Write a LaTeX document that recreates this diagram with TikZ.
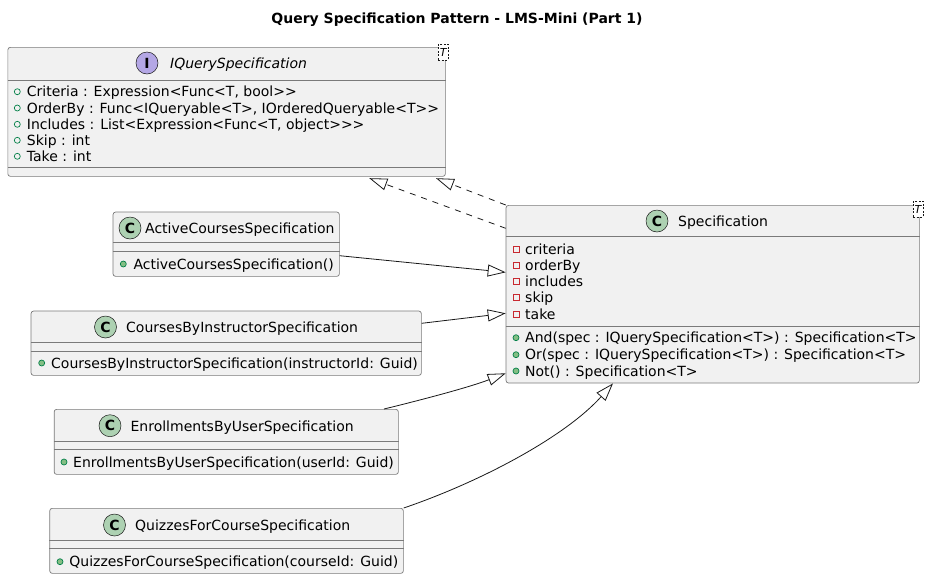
\documentclass[tikz,border=0pt]{standalone}
\usepackage{fontspec}
\setmainfont{DejaVu Sans}
\usetikzlibrary{arrows.meta,calc}
\definecolor{boxfill}{HTML}{F1F1F1}
\definecolor{ink}{HTML}{181818}
\definecolor{boxline}{HTML}{7A7A7A}
\definecolor{cgreen}{HTML}{ADD1B2}
\definecolor{ipurple}{HTML}{B4A7E5}
\definecolor{publine}{HTML}{038048}
\definecolor{pubfill}{HTML}{84BE84}
\definecolor{privred}{HTML}{C82930}
\begin{document}
\begin{tikzpicture}[x=1pt,y=-1pt,
  box/.style={draw=boxline, line width=0.7pt, fill=boxfill, rounded corners=2.5pt, inner sep=0pt, anchor=north west},
  sepline/.style={draw=boxline, line width=0.7pt},
  badge/.style={circle, draw=ink, line width=0.5pt, minimum size=22pt, inner sep=0pt, font=\fontsize{14}{14}\selectfont\bfseries},
  row/.style={anchor=base west, inner sep=0pt, font=\fontsize{14}{16}\selectfont},
  pubf/.style={circle, draw=publine, line width=0.7pt, minimum size=6pt, inner sep=0pt},
  pubm/.style={circle, draw=publine, fill=pubfill, line width=0.7pt, minimum size=6pt, inner sep=0pt},
  privf/.style={rectangle, draw=privred, line width=0.7pt, minimum size=6pt, inner sep=0pt},
  tmpl/.style={draw=ink, dash pattern=on 2pt off 1.5pt, fill=white, line width=0.5pt, inner sep=0pt, minimum width=10pt, minimum height=15.5pt, font=\fontsize{11}{11}\selectfont\itshape},
  ext/.style={draw=ink, line width=0.8pt, -{Triangle[length=18pt,width=12pt,fill=white]}},
  real/.style={ext, dash pattern=on 6pt off 6pt}
]
\useasboundingbox (0,0) rectangle (929,579);

% title
\node[anchor=base, inner sep=0pt, font=\fontsize{14}{16}\selectfont\bfseries] (title) at (457,23.3) {Query Specification Pattern - LMS-Mini (Part 1)};

% IQuerySpecification
\node[box, minimum width=437.5pt, minimum height=129pt] (iq) at (7.5,47) {};
\draw[sepline] (iq.west |- 0,80) -- (iq.east |- 0,80);
\draw[sepline] (iq.west |- 0,167.7) -- (iq.east |- 0,167.7);
\node[badge, fill=ipurple] (iqb) at (147,63) {I};
\node[row, font=\fontsize{14}{16}\selectfont\itshape] (iqn) at (170,68.5) {IQuerySpecification};
\node[tmpl] (iqt) at (443.3,52) {T};
\node[pubf] (iqm1) at (17.3,91.7) {};
\node[row] (iqa1) at (26.7,96.7) {Criteria : Expression<Func<T, bool>{}>};
\node[pubf] (iqm2) at (17.3,108) {};
\node[row] (iqa2) at (26.7,113) {OrderBy : Func<IQueryable<T>, IOrderedQueryable<T>{}>};
\node[pubf] (iqm3) at (17.3,124.3) {};
\node[row] (iqa3) at (26.7,129.3) {Includes : List<Expression<Func<T, object>{}>{}>};
\node[pubf] (iqm4) at (17.3,140.3) {};
\node[row] (iqa4) at (26.7,145.3) {Skip : int};
\node[pubf] (iqm5) at (17.3,156.3) {};
\node[row] (iqa5) at (26.7,161.3) {Take : int};

% Specification
\node[box, minimum width=413.3pt, minimum height=177.7pt] (spec) at (505.7,205) {};
\draw[sepline] (spec.west |- 0,236) -- (spec.east |- 0,236);
\draw[sepline] (spec.west |- 0,326) -- (spec.east |- 0,326);
\node[badge, fill=cgreen] (specb) at (657,221) {C};
\node[row] (specn) at (678,226.5) {Specification};
\node[tmpl] (spect) at (918,209.2) {T};
\node[privf] (spm1) at (516,249.3) {};
\node[row] (spa1) at (525,254.3) {criteria};
\node[privf] (spm2) at (516,265.3) {};
\node[row] (spa2) at (525,270.3) {orderBy};
\node[privf] (spm3) at (516,281.3) {};
\node[row] (spa3) at (525,286.3) {includes};
\node[privf] (spm4) at (516,297.7) {};
\node[row] (spa4) at (525,302.7) {skip};
\node[privf] (spm5) at (516,314) {};
\node[row] (spa5) at (525,319) {take};
\node[pubm] (spm6) at (516,337.7) {};
\node[row] (spo1) at (525,342.7) {And(spec : IQuerySpecification<T>) : Specification<T>};
\node[pubm] (spm7) at (516,354.7) {};
\node[row] (spo2) at (525,359.7) {Or(spec : IQuerySpecification<T>) : Specification<T>};
\node[pubm] (spm8) at (516,371) {};
\node[row] (spo3) at (525,376) {Not() : Specification<T>};

% ActiveCoursesSpecification
\node[box, minimum width=226.3pt, minimum height=64.3pt] (act) at (112.7,211.7) {};
\draw[sepline] (act.west |- 0,242.7) -- (act.east |- 0,242.7);
\draw[sepline] (act.west |- 0,251) -- (act.east |- 0,251);
\node[badge, fill=cgreen] (actb) at (130,228) {C};
\node[row] (actn) at (145,233.5) {ActiveCoursesSpecification};
\node[pubm] (actm) at (123.3,264) {};
\node[row] (acto) at (133.3,269) {ActiveCoursesSpecification()};

% CoursesByInstructorSpecification
\node[box, minimum width=390.3pt, minimum height=64.3pt] (cbi) at (30.7,310.7) {};
\draw[sepline] (cbi.west |- 0,342.7) -- (cbi.east |- 0,342.7);
\draw[sepline] (cbi.west |- 0,351) -- (cbi.east |- 0,351);
\node[badge, fill=cgreen] (cbib) at (105.5,327) {C};
\node[row] (cbin) at (126,332.5) {CoursesByInstructorSpecification};
\node[pubm] (cbim) at (41.7,363) {};
\node[row] (cbio) at (51,368) {CoursesByInstructorSpecification(instructorId: Guid)};

% EnrollmentsByUserSpecification
\node[box, minimum width=344.2pt, minimum height=65pt] (ebu) at (53.8,409) {};
\draw[sepline] (ebu.west |- 0,441.7) -- (ebu.east |- 0,441.7);
\draw[sepline] (ebu.west |- 0,449.3) -- (ebu.east |- 0,449.3);
\node[badge, fill=cgreen] (ebub) at (110,425.7) {C};
\node[row] (ebun) at (130.4,431.2) {EnrollmentsByUserSpecification};
\node[pubm] (ebum) at (64,462) {};
\node[row] (ebuo) at (73,467) {EnrollmentsByUserSpecification(userId: Guid)};

% QuizzesForCourseSpecification
\node[box, minimum width=353.6pt, minimum height=65pt] (qz) at (49.4,508) {};
\draw[sepline] (qz.west |- 0,540.7) -- (qz.east |- 0,540.7);
\draw[sepline] (qz.west |- 0,548.3) -- (qz.east |- 0,548.3);
\node[badge, fill=cgreen] (qzb) at (114.5,525) {C};
\node[row] (qzn) at (135,530.5) {QuizzesForCourseSpecification};
\node[pubm] (qzm) at (60,561.7) {};
\node[row] (qzo) at (69.2,566.7) {QuizzesForCourseSpecification(courseId: Guid)};

% connectors
\draw[real] (spec.north west) -- ([yshift=-1.5pt]iq.south -| 436,0);
\draw[real] (spec.west |- 0,228.3) -- ([yshift=-1.5pt]iq.south -| 369.3,0);
\draw[ext] (act.east |- 0,255.7) -- (spec.west |- 0,272.3);
\draw[ext] (cbi.east |- 0,323.3) -- (spec.west |- 0,313.3);
\draw[ext] (ebu.north -| 384,0) .. controls (425,399) and (470,387) .. (spec.west |- 0,373.3);
\draw[ext] (qz.north east) .. controls (480,482) and (565,437) .. (spec.south -| 613,0);
\end{tikzpicture}
\end{document}
